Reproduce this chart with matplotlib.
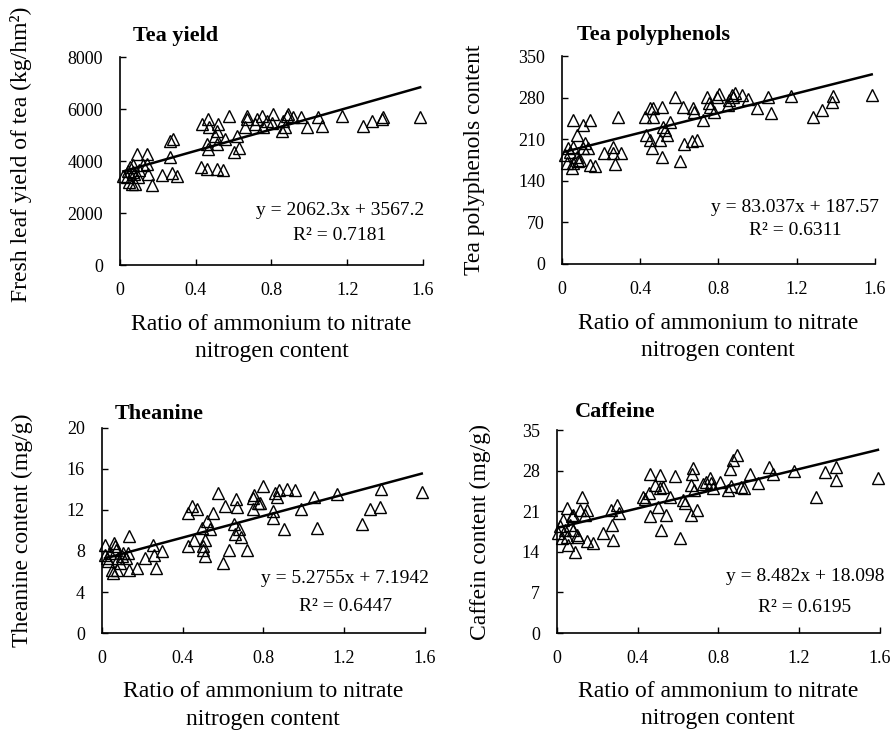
#!/usr/bin/env python3
"""
Scatter plots of tea quality vs ammonium/nitrate ratio
"""

import numpy as np
import matplotlib
matplotlib.use('Agg')
import matplotlib.pyplot as plt

plt.rcParams['font.family'] = ['Liberation Serif', 'DejaVu Serif']

# --- data ---
x_yield = [0.018, 0.035, 0.053, 0.067, 0.062, 0.079, 0.088, 0.07, 0.097, 0.123,
           0.141, 0.144, 0.15, 0.171, 0.22, 0.264, 0.282, 0.264, 0.273, 0.303,
           0.04, 0.05, 0.075, 0.10,
           0.431, 0.467, 0.472, 0.519, 0.511, 0.502, 0.458, 0.467, 0.511, 0.555,
           0.577, 0.616, 0.602, 0.630, 0.428, 0.458, 0.514, 0.546, 0.660, 0.669,
           0.673, 0.713, 0.722, 0.748, 0.757, 0.775, 0.81, 0.801, 0.854, 0.863,
           0.871, 0.88, 0.889, 0.915, 0.956, 0.989, 1.048, 1.069, 1.171, 1.285,
           1.329, 1.382, 1.387, 1.585]
y_yield = [3440, 3380, 3760, 3830, 3130, 3130, 4270, 3570, 3380, 3830,
           3890, 4270, 3510, 3060, 3480, 4780, 4850, 4150, 3530, 3440,
           3600, 3200, 3500, 3650,
           5420, 5610, 5290, 5420, 5170, 4970, 4660, 4460, 4660, 4850,
           5740, 4970, 4340, 4490, 3760, 3700, 3700, 3640, 5290, 5610,
           5740, 5420, 5610, 5740, 5290, 5550, 5800, 5480, 5170, 5550,
           5290, 5740, 5800, 5680, 5680, 5320, 5680, 5360, 5740, 5360,
           5550, 5610, 5700, 5680]

x_poly = [0.017, 0.026, 0.034, 0.043, 0.054, 0.06, 0.06, 0.06, 0.077, 0.077,
          0.085, 0.094, 0.111, 0.119, 0.111, 0.136, 0.145, 0.145, 0.17, 0.218,
          0.26, 0.264, 0.272, 0.286, 0.303, 0.426, 0.431, 0.451, 0.468, 0.465,
          0.451, 0.46, 0.502, 0.511, 0.514, 0.519, 0.528, 0.536, 0.553, 0.579,
          0.604, 0.621, 0.626, 0.664, 0.689, 0.669, 0.674, 0.72, 0.744, 0.754,
          0.757, 0.78, 0.791, 0.805, 0.851, 0.856, 0.868, 0.885, 0.877, 0.919,
          0.953, 0.996, 1.055, 1.069, 1.171, 1.285, 1.328, 1.379, 1.387, 1.583]
y_poly = [183.6, 169.7, 194.8, 189.2, 161.3, 242.4, 197.6, 169.7, 217.2, 180.8,
          172.5, 175.3, 234.0, 203.0, 194.8, 194.8, 242.4, 166.9, 164.1, 186.5,
          197.6, 186.5, 168.5, 248.0, 186.5, 248.0, 217.2, 262.0, 262.0, 248.0,
          208.8, 194.8, 208.8, 180.8, 263.7, 231.0, 225.6, 217.2, 239.6, 281.6,
          172.5, 263.7, 202.0, 207.7, 208.8, 262.0, 256.4, 242.4, 281.6, 270.4,
          263.7, 256.4, 280.5, 286.0, 267.6, 276.0, 284.4, 288.3, 281.6, 284.4,
          277.7, 262.0, 280.5, 254.8, 282.8, 248.0, 259.2, 273.2, 282.8, 284.4]

x_thea = [0.017, 0.017, 0.025, 0.033, 0.041, 0.05, 0.058, 0.061, 0.066, 0.071,
          0.074, 0.083, 0.091, 0.099, 0.107, 0.12, 0.137, 0.132, 0.137, 0.173,
          0.215, 0.256, 0.259, 0.267, 0.297, 0.429, 0.429, 0.446, 0.457, 0.47,
          0.495, 0.503, 0.503, 0.512, 0.512, 0.52, 0.536, 0.553, 0.574, 0.599,
          0.611, 0.632, 0.655, 0.66, 0.668, 0.663, 0.681, 0.688, 0.721, 0.748,
          0.751, 0.756, 0.776, 0.784, 0.797, 0.847, 0.847, 0.858, 0.866, 0.88,
          0.904, 0.916, 0.957, 0.985, 1.051, 1.068, 1.163, 1.287, 1.328, 1.378,
          1.383, 1.584]
y_thea = [8.63, 7.65, 7.33, 7.0, 7.82, 6.19, 5.86, 8.79, 8.47, 8.14,
          6.19, 7.33, 6.84, 7.49, 7.82, 7.33, 9.45, 7.82, 6.19, 6.35,
          7.33, 8.63, 7.65, 6.35, 7.98, 11.73, 8.47, 12.38, 9.12, 12.12,
          10.26, 8.47, 8.14, 7.49, 9.12, 10.91, 10.1, 11.66, 13.62, 6.84,
          12.38, 8.08, 10.59, 9.61, 12.31, 13.09, 10.1, 9.38, 8.08, 13.19,
          12.05, 13.42, 12.7, 12.64, 14.33, 11.89, 11.24, 13.68, 13.29, 13.94,
          10.16, 14.0, 13.94, 12.12, 13.29, 10.26, 13.52, 10.59, 12.12, 12.31,
          14.0, 13.75]

x_caff = [0.008, 0.016, 0.025, 0.033, 0.041, 0.049, 0.058, 0.049, 0.066, 0.074,
          0.082, 0.082, 0.091, 0.099, 0.107, 0.115, 0.124, 0.14, 0.148, 0.148,
          0.181, 0.231, 0.267, 0.272, 0.277, 0.297, 0.31, 0.428, 0.437, 0.458,
          0.461, 0.461, 0.486, 0.502, 0.51, 0.51, 0.514, 0.527, 0.54, 0.56,
          0.585, 0.61, 0.626, 0.634, 0.667, 0.675, 0.672, 0.667, 0.68, 0.692,
          0.725, 0.741, 0.758, 0.766, 0.774, 0.807, 0.848, 0.857, 0.865, 0.873,
          0.89, 0.914, 0.926, 0.956, 0.997, 1.051, 1.071, 1.173, 1.285, 1.326,
          1.384, 1.384, 1.59]
y_caff = [17.2, 18.4, 16.35, 19.5, 17.8, 21.5, 15.2, 16.6, 18.65, 20.1,
          17.8, 20.4, 14.05, 16.9, 16.6, 21.2, 23.4, 20.4, 21.2, 15.8,
          15.5, 17.3, 21.2, 18.65, 16.1, 22.1, 20.65, 23.4, 23.1, 24.1,
          27.5, 20.2, 25.5, 21.8, 27.25, 25.0, 17.7, 25.1, 20.4, 23.5,
          27.1, 16.35, 22.95, 22.5, 20.4, 28.4, 27.5, 25.5, 24.7, 21.2,
          25.7, 26.1, 26.7, 25.9, 25.0, 26.1, 24.7, 28.2, 25.4, 29.8,
          30.7, 25.1, 25.0, 27.5, 25.9, 28.7, 27.4, 28.0, 23.5, 27.8,
          28.6, 26.4, 26.7]

# fitted equations printed on the chart
slopes = [2062.3, 83.037, 5.2755, 8.482]
intercepts = [3567.2, 187.57, 7.1942, 18.098]
r2_values = ['0.7181', '0.6311', '0.6447', '0.6195']

titles = ['Tea yield', 'Tea polyphenols', 'Theanine', 'Caffeine']
ylabels = ['Fresh leaf yield of tea (kg/hm\u00b2)', 'Tea polyphenols content',
           'Theanine content (mg/g)', 'Caffein content (mg/g)']
xlabel = 'Ratio of ammonium to nitrate\nnitrogen content'
x_ticks = [0, 0.4, 0.8, 1.2, 1.6]
x_ticklabels = ['0', '0.4', '0.8', '1.2', '1.6']
y_ticks = [[0, 2000, 4000, 6000, 8000],
           [0, 70, 140, 210, 280, 350],
           [0, 4, 8, 12, 16, 20],
           [0, 7, 14, 21, 28, 35]]


def main():
    fig = plt.figure(figsize=(8.96, 7.37), dpi=100)
    rects = [[0.1339, 0.6404, 0.3382, 0.2822],
             [0.6269, 0.6418, 0.3497, 0.2822],
             [0.1135, 0.1411, 0.3608, 0.2782],
             [0.6213, 0.1411, 0.3608, 0.2754]]
    xs = [x_yield, x_poly, x_thea, x_caff]
    ys = [y_yield, y_poly, y_thea, y_caff]
    ylab_x = [-0.29, -0.244, -0.2125, -0.203]
    ylab_y = [0.53, 0.5, 0.5, 0.5]
    title_pos = [(0.043, 1.10), (0.049, 1.10), (0.041, 1.07), (0.057, 1.09)]
    eq_pos = [(0.726, 0.26, 0.14), (0.745, 0.27, 0.163),
              (0.753, 0.268, 0.127), (0.768, 0.276, 0.128)]

    for i in range(4):
        ax = fig.add_axes(rects[i])
        x = np.array(xs[i])
        y = np.array(ys[i])
        ax.plot(x, y, linestyle='none', marker='^', markersize=8,
                markerfacecolor='none', markeredgecolor='black',
                markeredgewidth=1.0, clip_on=False, zorder=3)
        xl = np.array([x.min(), x.max()])
        ax.plot(xl, slopes[i] * xl + intercepts[i], color='black',
                linewidth=1.8, zorder=4)

        ax.set_xlim(0, 1.6)
        ax.set_ylim(y_ticks[i][0], y_ticks[i][-1])
        ax.set_xticks(x_ticks)
        ax.set_xticklabels(x_ticklabels)
        ax.set_yticks(y_ticks[i])
        ax.tick_params(direction='in', length=4, width=1.0, labelsize=13)
        ax.tick_params(axis='x', pad=12)
        ax.tick_params(axis='y', pad=12)
        for s in ['top', 'right']:
            ax.spines[s].set_visible(False)
        for s in ['left', 'bottom']:
            ax.spines[s].set_linewidth(1.2)

        ax.set_xlabel(xlabel, fontsize=17, linespacing=1.4)
        ax.xaxis.set_label_coords(0.5, -0.235)
        ax.set_ylabel(ylabels[i], fontsize=17)
        ax.yaxis.set_label_coords(ylab_x[i], ylab_y[i])

        tx, ty = title_pos[i]
        ax.text(tx, ty, titles[i], transform=ax.transAxes, fontsize=16,
                fontweight='bold', ha='left', va='center')

        ex, ey1, ey2 = eq_pos[i]
        ax.text(ex, ey1, f'y = {slopes[i]}x + {intercepts[i]}',
                transform=ax.transAxes, fontsize=14, ha='center', va='center')
        ax.text(ex, ey2, f'R\u00b2 = {r2_values[i]}',
                transform=ax.transAxes, fontsize=14, ha='center', va='center')

    plt.savefig('out.png', dpi=100, facecolor='white')
    plt.close()


if __name__ == '__main__':
    main()
